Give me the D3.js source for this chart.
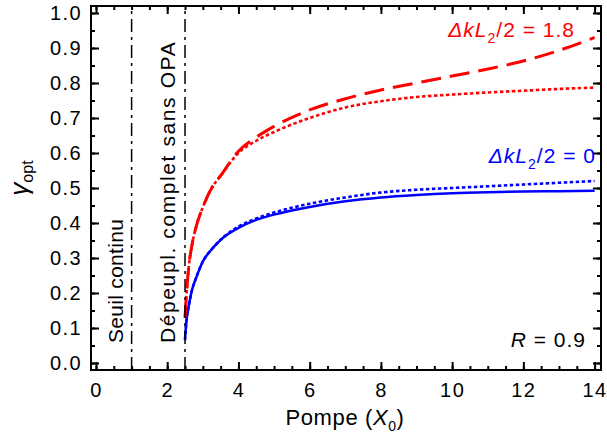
<!DOCTYPE html>
<html>
<head>
<meta charset="utf-8">
<script src="https://cdn.jsdelivr.net/npm/d3@7"></script>
<style>
  html, body { margin: 0; padding: 0; background: #fff; }
  svg { display: block; }
  text { font-family: "Liberation Sans", Arial, Helvetica, sans-serif; }
</style>
</head>
<body>
<svg id="chart" width="607" height="442"></svg>
<script>
// ---- data ----
const pump = [2.5, 2.55, 2.6, 2.7, 2.8, 3.0, 3.25, 3.5, 4.0, 4.5, 5.0, 6.0, 7.0, 8.0, 9.0, 10.0, 11.0, 12.0, 13.0, 14.0];
const red18Dashed = [0.13, 0.21, 0.27, 0.34, 0.385, 0.445, 0.50, 0.535, 0.605, 0.645, 0.676, 0.723, 0.755, 0.78, 0.80, 0.82, 0.84, 0.863, 0.893, 0.93];
const red18Dotted = [0.13, 0.21, 0.27, 0.34, 0.385, 0.445, 0.50, 0.535, 0.60, 0.635, 0.66, 0.70, 0.73, 0.748, 0.76, 0.767, 0.773, 0.778, 0.783, 0.787];
const blue0Solid  = [0.07, 0.13, 0.16, 0.21, 0.24, 0.29, 0.325, 0.352, 0.386, 0.409, 0.424, 0.446, 0.462, 0.473, 0.48, 0.485, 0.488, 0.49, 0.491, 0.492];
const blue0Dotted = [0.065, 0.13, 0.16, 0.21, 0.24, 0.29, 0.325, 0.352, 0.39, 0.413, 0.43, 0.455, 0.473, 0.487, 0.495, 0.50, 0.505, 0.51, 0.515, 0.52];
const thresholds = [1.0, 2.5];
const xMajorTicks = [0, 2, 4, 6, 8, 10, 12, 14];
const xMinorTicks = d3.range(0, 14.01, 0.5);
const yMajorTicks = [0, 0.1, 0.2, 0.3, 0.4, 0.5, 0.6, 0.7, 0.8, 0.9, 1.0];
const yMinorTicks = d3.range(0, 1.001, 0.05);

// ---- layout ----
const L = 91, R = 601, T = 6, B = 370;
const x = d3.scaleLinear().domain([-0.14, 14.18]).range([L, R]);
const y = d3.scaleLinear().domain([-0.02, 1.02]).range([B, T]);

const svg = d3.select("#chart");
const RED = "#ff0000", BLUE = "#0000ff";

// curves
const line = d3.line().x(d => x(d[0])).y(d => y(d[1])).curve(d3.curveMonotoneX);
const series = [
  { v: blue0Solid,  color: BLUE, w: 2.5, dash: null },
  { v: blue0Dotted, color: BLUE, w: 2.6, dash: "3.5,2.5" },
  { v: red18Dotted, color: RED,  w: 2.6, dash: "3.5,2.5" },
  { v: red18Dashed, color: RED,  w: 3,   dash: "20,9" }
];
series.forEach(s => {
  svg.append("path")
    .datum(pump.map((p, i) => [p, s.v[i]]))
    .attr("d", line)
    .attr("fill", "none")
    .attr("stroke", s.color)
    .attr("stroke-width", s.w)
    .attr("stroke-dasharray", s.dash);
});

// threshold dash-dot lines
svg.selectAll("line.thr").data(thresholds).enter().append("line")
  .attr("class", "thr")
  .attr("x1", d => x(d)).attr("x2", d => x(d))
  .attr("y1", B).attr("y2", T)
  .attr("stroke", "#000").attr("stroke-width", 1.5)
  .attr("stroke-dasharray", "13,5,3,5");

// axes
function styleAxis(g) {
  g.select(".domain").remove();
  g.selectAll(".tick line").attr("stroke", "#000").attr("stroke-width", 2);
  g.selectAll(".tick text").attr("fill", "#000")
    .style("font-size", "20px").style("letter-spacing", "1.4px")
    .style("font-family", "'Liberation Sans', Arial, sans-serif");
}
svg.append("g").attr("transform", `translate(0,${B})`)
  .call(d3.axisBottom(x).tickValues(xMinorTicks).tickSize(-4).tickFormat("")).call(styleAxis);
svg.append("g").attr("transform", `translate(0,${B})`)
  .call(d3.axisBottom(x).tickValues(xMajorTicks).tickSize(-8).tickPadding(13).tickFormat(d3.format("d"))).call(styleAxis);
svg.append("g").attr("transform", `translate(0,${T})`)
  .call(d3.axisTop(x).tickValues(xMinorTicks).tickSize(-4).tickFormat("")).call(styleAxis);
svg.append("g").attr("transform", `translate(0,${T})`)
  .call(d3.axisTop(x).tickValues(xMajorTicks).tickSize(-8).tickFormat("")).call(styleAxis);
svg.append("g").attr("transform", `translate(${L},0)`)
  .call(d3.axisLeft(y).tickValues(yMinorTicks).tickSize(-4).tickFormat("")).call(styleAxis);
svg.append("g").attr("transform", `translate(${L},0)`)
  .call(d3.axisLeft(y).tickValues(yMajorTicks).tickSize(-8).tickPadding(9).tickFormat(d3.format(".1f"))).call(styleAxis);
svg.append("g").attr("transform", `translate(${R},0)`)
  .call(d3.axisRight(y).tickValues(yMinorTicks).tickSize(-4).tickFormat("")).call(styleAxis);
svg.append("g").attr("transform", `translate(${R},0)`)
  .call(d3.axisRight(y).tickValues(yMajorTicks).tickSize(-8).tickFormat("")).call(styleAxis);

// frame
svg.append("rect").attr("x", L).attr("y", T).attr("width", R - L).attr("height", B - T)
  .attr("fill", "none").attr("stroke", "#000").attr("stroke-width", 2);

// axis titles
const xt = svg.append("text").attr("x", 345).attr("y", 425).attr("text-anchor", "middle")
  .style("font-size", "22px").style("letter-spacing", "0.6px");
xt.append("tspan").text("Pompe (");
xt.append("tspan").style("font-style", "italic").text("X");
xt.append("tspan").attr("dy", 6).style("font-size", "14px").text("0");
xt.append("tspan").attr("dy", -6).text(")");

const yt = svg.append("text").attr("transform", "translate(28,178) rotate(-90)")
  .attr("text-anchor", "middle").style("font-size", "26px");
yt.append("tspan").style("font-style", "italic").text("γ");
yt.append("tspan").attr("dy", 5).style("font-size", "16px").text("opt");

// vertical annotations
svg.append("text").attr("transform", "translate(123,343) rotate(-90)")
  .style("font-size", "21px").style("letter-spacing", "0.3px").text("Seuil continu");
svg.append("text").attr("transform", "translate(175,343) rotate(-90)")
  .style("font-size", "21px").style("letter-spacing", "1.6px").text("Dépeupl. complet sans OPA");

// legends
function label(xp, yp, color, value) {
  const t = svg.append("text").attr("x", xp).attr("y", yp).attr("text-anchor", "end")
    .attr("fill", color).style("font-size", "21px").style("letter-spacing", "1px");
  t.append("tspan").style("font-style", "italic").text("ΔkL");
  t.append("tspan").attr("dy", 6).style("font-size", "14px").text("2");
  t.append("tspan").attr("dy", -6).text("/2 = " + value);
}
label(575, 37, RED, "1.8");
label(596, 163, BLUE, "0");

const rt = svg.append("text").attr("x", 586).attr("y", 347).attr("text-anchor", "end")
  .style("font-size", "21px").style("letter-spacing", "1px");
rt.append("tspan").style("font-style", "italic").text("R");
rt.append("tspan").text(" = 0.9");
</script>
</body>
</html>
